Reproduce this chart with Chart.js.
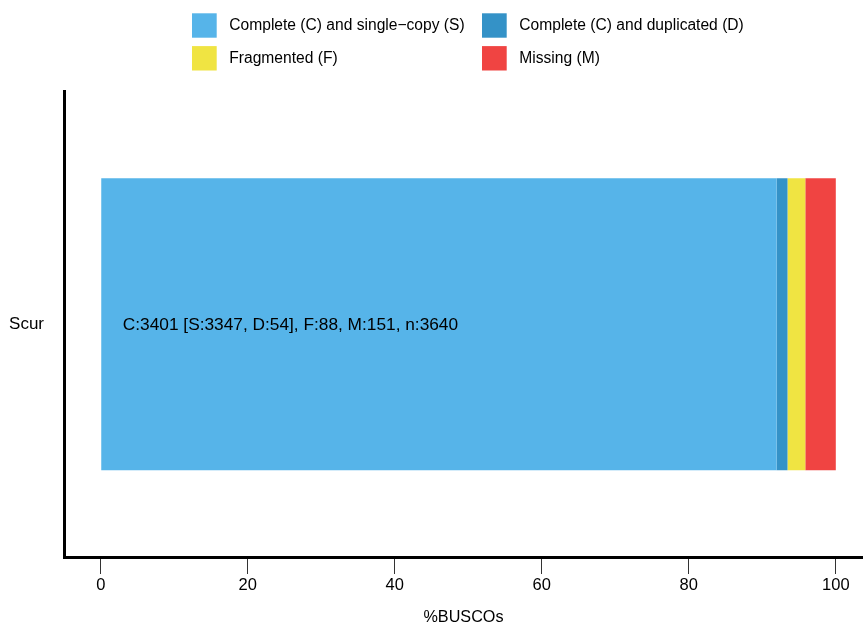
<!DOCTYPE html>
<html>
<head>
<meta charset="utf-8">
<script src="https://cdn.jsdelivr.net/npm/chart.js@4"></script>
<style>
  body { margin: 0; background: #fff; }
  #wrap { width: 863px; height: 626px; }
</style>
</head>
<body>
<div id="wrap"><canvas id="buscoChart" width="863" height="626"></canvas></div>
<script>
// データ
const species = ['Scur'];
const seriesLabels = [
  'Complete (C) and single\u2212copy (S)',
  'Complete (C) and duplicated (D)',
  'Fragmented (F)',
  'Missing (M)'
];
const seriesColors = ['#56B4E9', '#3492C7', '#F0E442', '#F04442'];
const singleCopy = [91.95];
const duplicated = [1.48];
const fragmented = [2.42];
const missing = [4.15];
const xTicks = [0, 20, 40, 60, 80, 100];
const summaryText = 'C:3401 [S:3347, D:54], F:88, M:151, n:3640';
const summaryAt = 3; // %BUSCOs position of the text

const FONT = '"Liberation Sans", Arial, Helvetica, sans-serif';
Chart.defaults.font.family = FONT;
Chart.defaults.color = '#000';

// 凡例 (2列) - 自前で描画
const gridLegend = {
  id: 'gridLegend',
  afterDraw(chart) {
    const c = chart.ctx;
    const cols = [192, 482];
    const rows = [25.5, 58.3];
    c.save();
    c.font = '15.6px ' + FONT;
    c.textBaseline = 'middle';
    c.textAlign = 'left';
    chart.data.datasets.forEach((ds, i) => {
      const x = cols[i % 2];
      const y = rows[Math.floor(i / 2)];
      c.fillStyle = ds.backgroundColor;
      c.fillRect(x, y - 12.2, 24.7, 24.4);
      c.fillStyle = '#000';
      c.fillText(ds.label, x + 37.3, y);
    });
    c.restore();
  }
};

// バーの中の要約テキスト
const summaryLabel = {
  id: 'summaryLabel',
  afterDatasetsDraw(chart) {
    const c = chart.ctx;
    const xs = chart.scales.x;
    const ys = chart.scales.y;
    c.save();
    c.font = '17.3px ' + FONT;
    c.fillStyle = '#000';
    c.textBaseline = 'middle';
    c.textAlign = 'left';
    c.fillText(summaryText, xs.getPixelForValue(summaryAt), ys.getPixelForValue(0) + 1);
    c.restore();
  }
};

const values = [singleCopy, duplicated, fragmented, missing];

new Chart(document.getElementById('buscoChart'), {
  type: 'bar',
  data: {
    labels: species,
    datasets: values.map((v, i) => ({
      label: seriesLabels[i],
      data: v,
      backgroundColor: seriesColors[i],
      borderWidth: 0,
      barPercentage: 0.626,
      categoryPercentage: 1
    }))
  },
  options: {
    indexAxis: 'y',
    responsive: false,
    animation: false,
    layout: { padding: { top: 91, left: 0, right: 0, bottom: 0 } },
    plugins: {
      legend: { display: false },
      tooltip: { enabled: false }
    },
    scales: {
      x: {
        stacked: true,
        min: -5,
        max: 103.7,
        afterBuildTicks(scale) {
          scale.ticks = xTicks.map(v => ({ value: v }));
        },
        afterFit(scale) { scale.height = 68.5; },
        border: { display: true, color: '#000', width: 3 },
        grid: {
          drawOnChartArea: false,
          drawTicks: true,
          tickLength: 16.5,
          color: '#333',
          lineWidth: 1
        },
        ticks: {
          font: { size: 16.5 },
          color: '#000',
          padding: 2,
          maxRotation: 0
        },
        title: {
          display: true,
          text: '%BUSCOs',
          font: { size: 16.2, lineHeight: 1 },
          color: '#000',
          padding: { top: 0, bottom: 0 }
        }
      },
      y: {
        stacked: true,
        afterFit(scale) { scale.width = 64; },
        border: { display: true, color: '#000', width: 3 },
        grid: { display: false, drawTicks: false },
        ticks: {
          font: { size: 17 },
          color: '#000',
          padding: 20
        }
      }
    }
  },
  plugins: [gridLegend, summaryLabel]
});
</script>
</body>
</html>
